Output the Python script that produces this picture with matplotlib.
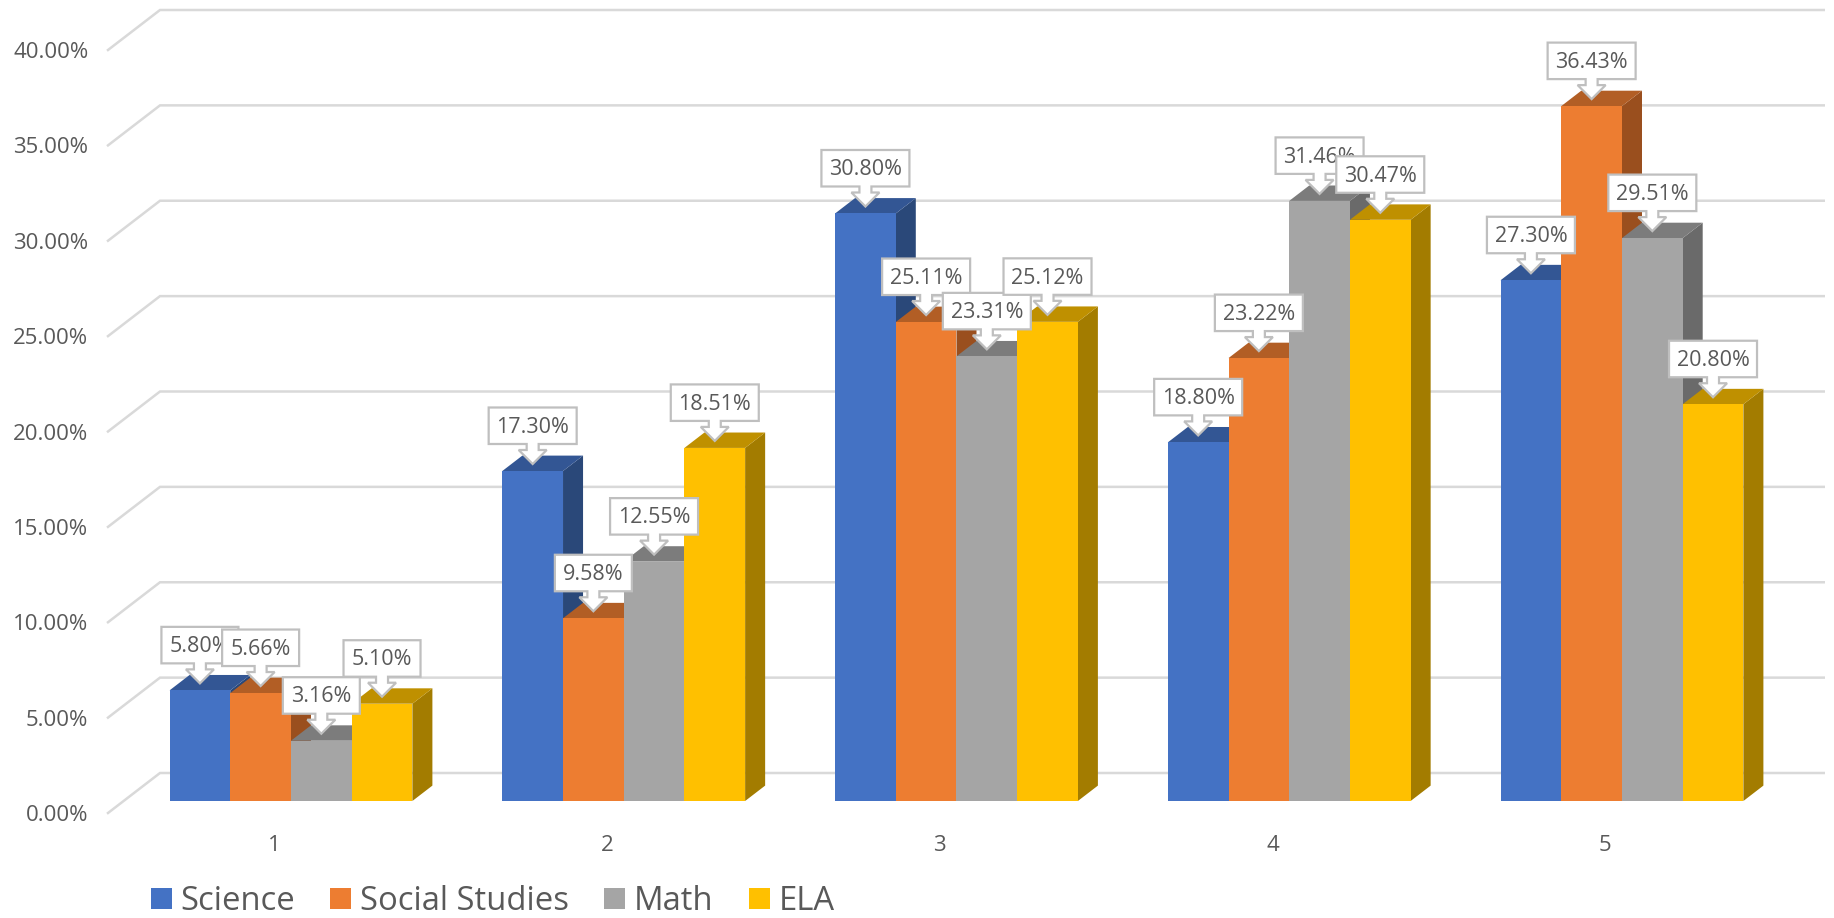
import matplotlib
matplotlib.use('Agg')
import matplotlib.pyplot as plt
from matplotlib.patches import Patch, Polygon

# data
categories = [1, 2, 3, 4, 5]
series_names = ['Science', 'Social Studies', 'Math', 'ELA']
science = [5.80, 17.30, 30.80, 18.80, 27.30]
social_studies = [5.66, 9.58, 25.11, 23.22, 36.43]
math_scores = [3.16, 12.55, 23.31, 31.46, 29.51]
ela = [5.10, 18.51, 25.12, 30.47, 20.80]
y_ticks = [0, 5, 10, 15, 20, 25, 30, 35, 40]

# colours per series: front, top, side
FRONT = ['#4472C4', '#ED7D31', '#A5A5A5', '#FFC000']
TOP = ['#335694', '#B25E25', '#7C7C7C', '#BF9000']
SIDE = ['#2A4879', '#9A4F1E', '#6A6A6A', '#A37C00']
GRID_COLOR = '#D9D9D9'
TEXT_COLOR = '#595959'
BOX_EDGE = '#BFBFBF'

# layout, pixels at dpi 100
W, H = 1834, 918
AX_LEFT, AX_RIGHT = 108, 1771.75
AX_TOP, AX_BOTTOM = 50, 813
PX_X = 5 / (AX_RIGHT - AX_LEFT)     # one pixel in x data units
PX_Y = 40 / (AX_BOTTOM - AX_TOP)    # one pixel in y data units

DEPTH_X = 52 * PX_X     # floor depth as drawn on screen
DEPTH_Y = 40 * PX_Y
BAR_START = 0.3         # where the bars sit along that depth
BAR_DEPTH = 0.385
BAR_W = 60.7 * PX_X


def draw_callout(ax, x, y, label, order):
    # arrow shaped label box, tip at (x, y)
    box_w = (11 * len(label) + 22) * PX_X / 2
    stem = 6 * PX_X
    head = 14 * PX_X
    y_head = y + 14 * PX_Y
    y_box = y + 20 * PX_Y
    y_top = y_box + 36.5 * PX_Y
    pts = [
        (x - box_w, y_top), (x + box_w, y_top), (x + box_w, y_box),
        (x + stem, y_box), (x + stem, y_head), (x + head, y_head),
        (x, y), (x - head, y_head), (x - stem, y_head), (x - stem, y_box),
        (x - box_w, y_box),
    ]
    ax.add_patch(Polygon(pts, closed=True, facecolor='white', edgecolor=BOX_EDGE,
                         linewidth=1.6, zorder=100 + order * 2, clip_on=False))
    ax.text(x, (y_box + y_top) / 2 - 1.5 * PX_Y, label, ha='center', va='center',
            fontsize=15.5, color=TEXT_COLOR, zorder=101 + order * 2, clip_on=False)


def main():
    plt.rcParams['font.family'] = ['Open Sans', 'DejaVu Sans']
    fig = plt.figure(figsize=(W / 100, H / 100), dpi=100)
    ax = fig.add_axes([AX_LEFT / W, 1 - AX_BOTTOM / H,
                       (AX_RIGHT - AX_LEFT) / W, (AX_BOTTOM - AX_TOP) / H])
    ax.set_xlim(0.5, 5.5)
    ax.set_ylim(0, 40)
    for s in ax.spines.values():
        s.set_visible(False)

    ax.set_xticks(categories)
    ax.set_yticks(y_ticks)
    ax.set_yticklabels([f'{v:.2f}%' for v in y_ticks])
    ax.tick_params(axis='y', length=0, pad=14.1, labelsize=16, labelcolor=TEXT_COLOR)
    ax.tick_params(axis='x', length=0, pad=16, labelsize=16, labelcolor=TEXT_COLOR)

    # wall and back grid lines
    for v in y_ticks:
        ax.plot([0.5, 0.5 + DEPTH_X, 5.5 + DEPTH_X], [v, v + DEPTH_Y, v + DEPTH_Y],
                color=GRID_COLOR, linewidth=1.8, clip_on=False, zorder=1,
                solid_joinstyle='miter')

    # bars, left to right so the nearer faces cover the earlier ones
    x_off = DEPTH_X * BAR_START + 1 * PX_X
    y_off = DEPTH_Y * BAR_START
    dx = DEPTH_X * BAR_DEPTH
    dy = DEPTH_Y * BAR_DEPTH
    all_series = [science, social_studies, math_scores, ela]
    for j, values in enumerate(all_series):
        for i, v in enumerate(values):
            left = categories[i] + x_off + (j - 2) * BAR_W
            right = left + BAR_W
            top = v + y_off
            ax.add_patch(Polygon([(right, y_off), (right + dx, y_off + dy),
                                  (right + dx, top + dy), (right, top)],
                                 facecolor=SIDE[j], edgecolor='none', zorder=3 + j * 2))
            ax.add_patch(Polygon([(left, top), (left + dx, top + dy),
                                  (right + dx, top + dy), (right, top)],
                                 facecolor=TOP[j], edgecolor='none', zorder=3 + j * 2))
            draw_callout(ax, left + BAR_W / 2, top + 7 * PX_Y, f'{v:.2f}%', j)
        lefts = [c + x_off + (j - 1.5) * BAR_W for c in categories]
        ax.bar(lefts, values, width=BAR_W, bottom=y_off, color=FRONT[j], zorder=4 + j * 2)

    handles = [Patch(facecolor=c, edgecolor='none') for c in FRONT]
    fig.legend(handles, series_names, loc='lower left',
               bbox_to_anchor=(137.7 / W, 1 - 931 / H), ncol=4, frameon=False,
               fontsize=23.6, labelcolor=TEXT_COLOR, handlelength=0.64, handleheight=0.64,
               handletextpad=0.26, columnspacing=1.08, borderaxespad=0)

    fig.savefig('out.png', dpi=100, facecolor='white')


if __name__ == "__main__":
    main()
